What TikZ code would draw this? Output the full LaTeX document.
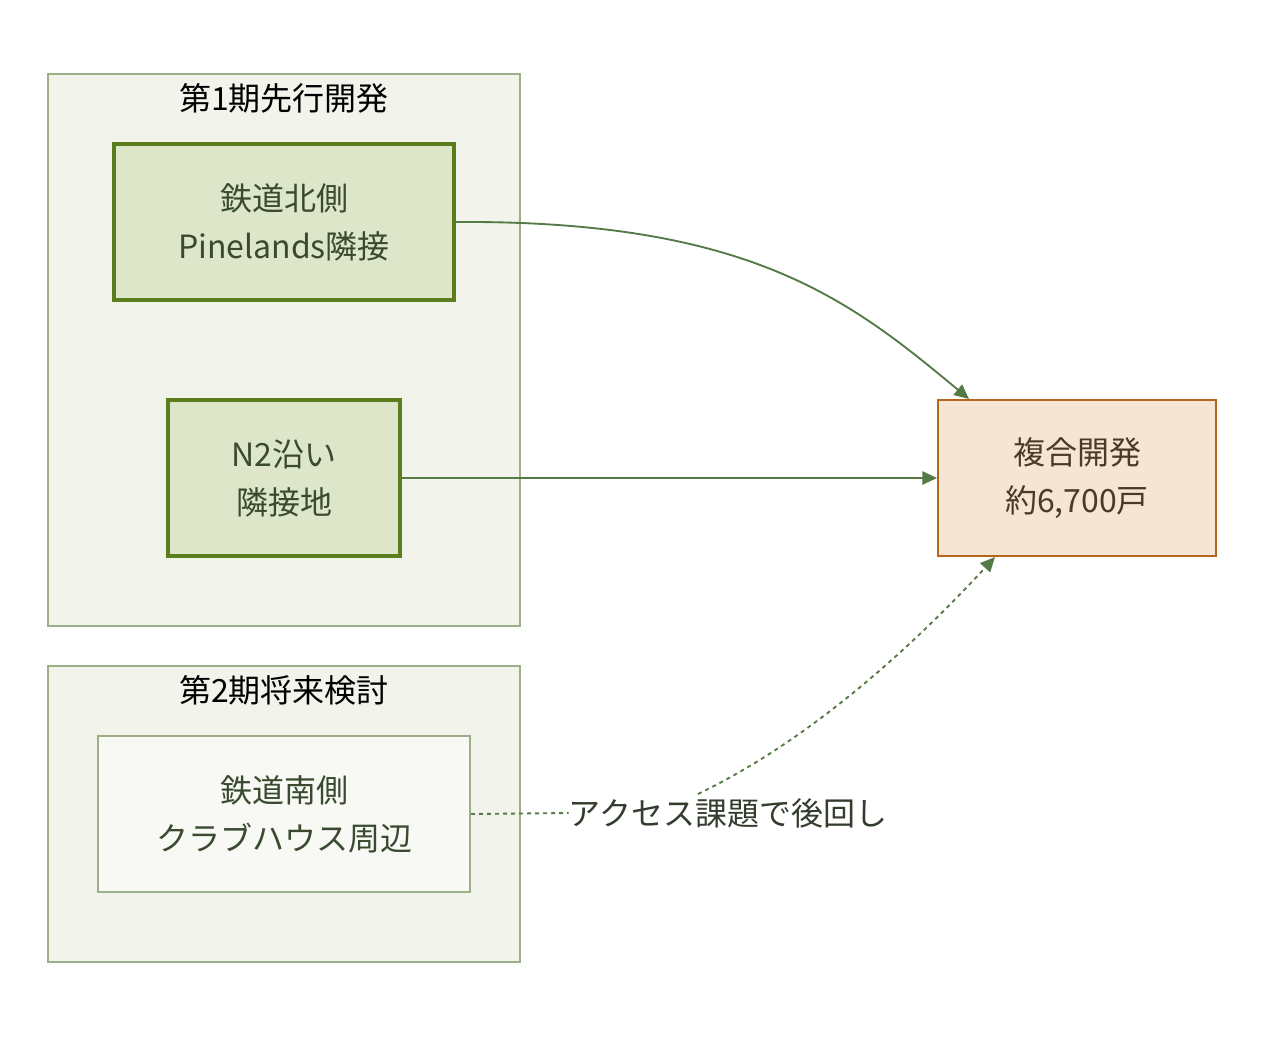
\documentclass[tikz,border=0pt]{standalone}
\usepackage{fontspec}
\setmainfont{Noto Sans CJK JP}
\usetikzlibrary{arrows.meta,calc}
\definecolor{grpfill}{HTML}{F2F4EC}
\definecolor{grpline}{HTML}{9CAF88}
\definecolor{nodefill}{HTML}{DDE6C8}
\definecolor{nodeline}{HTML}{5B7D1E}
\definecolor{softfill}{HTML}{F8F9F4}
\definecolor{tgtfill}{HTML}{F5E6D4}
\definecolor{tgtline}{HTML}{B5651D}
\definecolor{edgecol}{HTML}{557A46}
\definecolor{greentext}{HTML}{3A4A30}
\definecolor{browntext}{HTML}{4A3A28}
\definecolor{labeltext}{HTML}{333D2E}
\tikzset{
  grpbox/.style={draw=grpline, fill=grpfill, line width=1.5pt},
  grptitle/.style={font=\fontsize{24}{36}\selectfont, text=black, inner sep=0pt},
  mainbox/.style={draw=nodeline, fill=nodefill, line width=2.6pt},
  softbox/.style={draw=grpline, fill=softfill, line width=1.5pt},
  tgtbox/.style={draw=tgtline, fill=tgtfill, line width=1.5pt},
  boxtext/.style={font=\fontsize{24}{36}\selectfont, align=center, text=greentext},
  flow/.style={draw=edgecol, line width=1.4pt, -{Triangle[length=11pt,width=10pt]}},
  dflow/.style={draw=edgecol, line width=1.4pt, dash pattern=on 3pt off 3pt},
}
\begin{document}
\begin{tikzpicture}[x=0.75pt,y=-0.75pt]
\useasboundingbox (0,0) rectangle (1264,1040);
% groups
\draw[grpbox] (48,74) rectangle (520,626);
\node[grptitle] (g1t) at (284,98) {第1期先行開発};
\draw[grpbox] (48,666) rectangle (520,962);
\node[grptitle] (g2t) at (284,690) {第2期将来検討};
% nodes
\node[mainbox, minimum width=340*0.75pt, minimum height=156*0.75pt, inner sep=0pt] (A) at (284,222) {};
\node[boxtext] at (A.center) {鉄道北側\\Pinelands隣接};
\node[mainbox, minimum width=232*0.75pt, minimum height=156*0.75pt, inner sep=0pt] (B) at (284,478) {};
\node[boxtext] at (B.center) {N2沿い\\隣接地};
\node[softbox, minimum width=372*0.75pt, minimum height=156*0.75pt, inner sep=0pt] (C) at (284,814) {};
\node[boxtext] at (C.center) {鉄道南側\\クラブハウス周辺};
\node[tgtbox, minimum width=278*0.75pt, minimum height=156*0.75pt, inner sep=0pt] (T) at (1077,478) {};
\node[boxtext, text=browntext] at (T.center) {複合開発\\約6,700戸};
% label
\node[font=\fontsize{24}{36}\selectfont, text=labeltext, inner sep=0pt] (L) at (728,813) {アクセス課題で後回し};
% edges
\draw[flow] (A.east) .. controls (750,220) and (850,300) .. ($(T.north west)+(32,0)$);
\draw[flow] (B.east) -- (T.west);
\draw[dflow] (C.east) -- (L.west);
\draw[dflow, -{Triangle[length=11pt,width=10pt]}] ($(L.north)+(-30,-4)$) .. controls (800,745) and (900,660) .. ($(T.south west)+(58,0)$);
\end{tikzpicture}
\end{document}
